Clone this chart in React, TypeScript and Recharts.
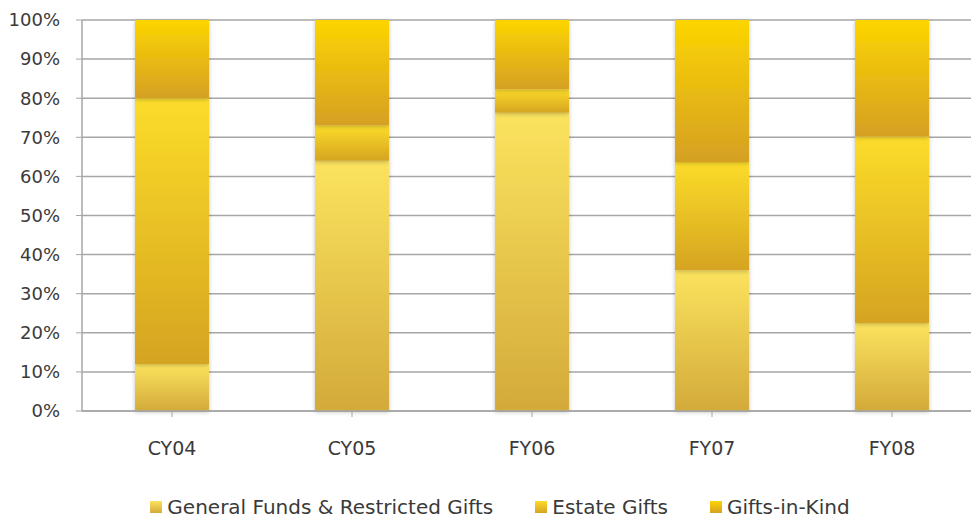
import { BarChart, Bar, XAxis, YAxis, CartesianGrid, Legend } from 'recharts'

if (typeof document !== 'undefined') {
  document.body.style.margin = '0'
  document.body.style.overflow = 'hidden'
}

const categories = ['CY04', 'CY05', 'FY06', 'FY07', 'FY08']
const generalFunds = [12, 64, 76.3, 36, 22.5]
const estateGifts = [68, 9, 6, 27.7, 47.7]
const giftsInKind = [20, 27, 17.7, 36.3, 29.8]
const yTicks = [0, 10, 20, 30, 40, 50, 60, 70, 80, 90, 100]

const data = categories.map((name, i) => ({
  name,
  general: generalFunds[i],
  estate: estateGifts[i],
  gik: giftsInKind[i],
}))

const series = [
  { key: 'general', label: 'General Funds & Restricted Gifts', grad: 'gGeneral', top: '#fbe35e', bottom: '#d3aa3a' },
  { key: 'estate', label: 'Estate Gifts', grad: 'gEstate', top: '#fcdc2a', bottom: '#d5a420' },
  { key: 'gik', label: 'Gifts-in-Kind', grad: 'gGik', top: '#fcd500', bottom: '#d5a024' },
]

const font = '"DejaVu Sans", sans-serif'

function LegendContent() {
  return (
    <div
      style={{
        display: 'flex',
        justifyContent: 'center',
        gap: 42,
        fontFamily: font,
        fontSize: 20,
        color: '#3a3a3a',
        paddingLeft: 18,
        marginTop: 2,
        lineHeight: '20px',
      }}
    >
      {series.map((s) => (
        <div key={s.key} style={{ display: 'flex', alignItems: 'center' }}>
          <span style={{ width: 12, height: 12, marginRight: 5, background: `linear-gradient(${s.top}, ${s.bottom})` }} />
          <span>{s.label}</span>
        </div>
      ))}
    </div>
  )
}

export default function App() {
  return (
    <div style={{ width: 971, height: 519, overflow: 'hidden', background: '#fff' }}>
      <BarChart
        width={982}
        height={519}
        data={data}
        margin={{ top: 20, right: 0, left: 0, bottom: 0 }}
        barSize={74}
      >
        <defs>
          {series.map((s) => (
            <linearGradient key={s.grad} id={s.grad} x1="0" y1="0" x2="0" y2="1">
              <stop offset="0%" stopColor={s.top} />
              <stop offset="100%" stopColor={s.bottom} />
            </linearGradient>
          ))}
          <filter id="shadow" x="-20%" y="-20%" width="140%" height="140%">
            <feDropShadow dx="0" dy="1" stdDeviation="2" floodColor="#000" floodOpacity="0.25" />
          </filter>
        </defs>
        <CartesianGrid stroke="#a6a6a6" strokeWidth={1.5} vertical={false} />
        <XAxis
          dataKey="name"
          axisLine={{ stroke: '#a6a6a6', strokeWidth: 1.5 }}
          tickLine={{ stroke: '#a6a6a6' }}
          tickSize={6}
          tick={{ fontSize: 19, fill: '#3a3a3a', fontFamily: font, dy: 23 }}
          height={84}
        />
        <YAxis
          domain={[0, 100]}
          ticks={yTicks}
          tickFormatter={(v: number) => `${v}%`}
          axisLine={{ stroke: '#a6a6a6', strokeWidth: 1.5 }}
          tickLine={{ stroke: '#a6a6a6' }}
          tickSize={6}
          tick={{ fontSize: 18, fill: '#3a3a3a', fontFamily: font, dx: -14 }}
          width={82}
          interval={0}
        />
        <Legend verticalAlign="bottom" height={24} content={<LegendContent />} />
        {series.map((s) => (
          <Bar
            key={s.key}
            dataKey={s.key}
            name={s.label}
            stackId="a"
            fill={`url(#${s.grad})`}
            filter="url(#shadow)"
            isAnimationActive={false}
          />
        ))}
      </BarChart>
    </div>
  )
}
